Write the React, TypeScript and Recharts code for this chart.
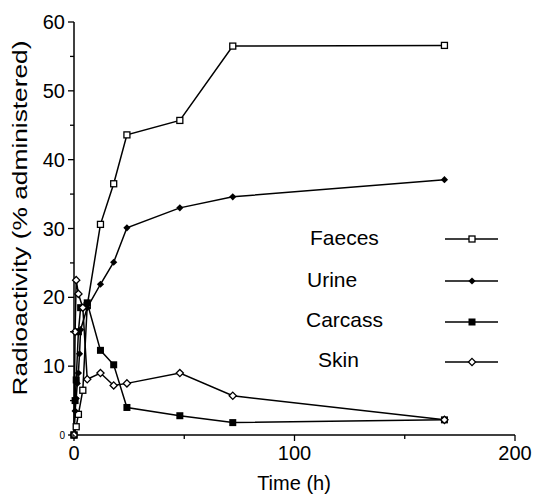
import React from "react";
import { LineChart, Line, XAxis, YAxis, Label } from "recharts";

// hours after dosing / % of administered radioactivity
const faecesHours = [0, 1, 2, 4, 6, 12, 18, 24, 48, 72, 168];
const faecesPct = [0, 1.2, 3.0, 6.5, 18.8, 30.6, 36.5, 43.6, 45.7, 56.5, 56.6];

const urineHours = [0, 0.5, 1, 1.5, 2, 2.5, 3, 6, 12, 18, 24, 48, 72, 168];
const urinePct = [0, 3.5, 5.3, 7.5, 9.0, 11.8, 15.3, 18.5, 21.9, 25.1, 30.1, 33.0, 34.6, 37.1];

const carcassHours = [0, 0.5, 1, 2, 3, 6, 12, 18, 24, 48, 72, 168];
const carcassPct = [0, 5.0, 8.0, 15.0, 18.5, 19.2, 12.3, 10.2, 4.0, 2.8, 1.8, 2.2];

const skinHours = [0, 0.5, 1, 2, 4, 6, 12, 18, 24, 48, 72, 168];
const skinPct = [0, 15.0, 22.5, 20.5, 18.5, 8.1, 9.0, 7.2, 7.5, 9.0, 5.7, 2.2];

const yTicks = [0, 5, 10, 15, 20, 25, 30, 35, 40, 45, 50, 55, 60];
const xTicks = [0, 50, 100, 150, 200];

const legendNames = ["Faeces", "Urine", "Carcass", "Skin"];

const FONT = "'Liberation Sans', Arial, Helvetica, sans-serif";

const toRows = (hours: number[], pct: number[]) =>
  hours.map((t, i) => ({ t, v: pct[i] }));

const Marker = ({ kind, cx, cy }: { kind: string; cx: number; cy: number }) => {
  if (kind === "Faeces")
    return <rect x={cx - 3} y={cy - 3} width={6} height={6} fill="#fff" stroke="#000" strokeWidth={1.3} />;
  if (kind === "Carcass")
    return <rect x={cx - 3.5} y={cy - 3.5} width={7} height={7} fill="#000" />;
  const d = 3.6;
  const pts = `${cx},${cy - d} ${cx + d},${cy} ${cx},${cy + d} ${cx - d},${cy}`;
  if (kind === "Urine") return <polygon points={pts} fill="#000" />;
  return <polygon points={pts} fill="#fff" stroke="#000" strokeWidth={1.3} />;
};

const dotFor = (kind: string) => (p: any) =>
  <Marker key={`${kind}-${p.index}`} kind={kind} cx={p.cx} cy={p.cy} />;

const YTick = ({ x, y, payload }: any) => {
  const v = payload.value;
  const major = v % 10 === 0;
  return (
    <g>
      <line x1={x - (major ? 6 : 4)} x2={x} y1={y} y2={y} stroke="#000" strokeWidth={1.3} />
      {major && (
        <text x={x - 9} y={y} textAnchor="end" dominantBaseline="central"
          fontSize={v === 0 ? 10 : 20} fontFamily={FONT} fill="#000">
          {v}
        </text>
      )}
    </g>
  );
};

const XTick = ({ x, y, payload }: any) => {
  const v = payload.value;
  const major = v % 100 === 0;
  return (
    <g>
      <line x1={x} x2={x} y1={y} y2={y + (major ? 6 : 4)} stroke="#000" strokeWidth={1.3} />
      {major && (
        <text x={x} y={y + 18} textAnchor="middle" dominantBaseline="central"
          fontSize={20} fontFamily={FONT} fill="#000">
          {v}
        </text>
      )}
    </g>
  );
};

const legendRows = [
  { y: 237, lineY: 239, tx: 310 },
  { y: 279, lineY: 281, tx: 307 },
  { y: 319, lineY: 322, tx: 306 },
  { y: 359, lineY: 362, tx: 318 },
];

export default function App() {
  return (
    <div style={{ position: "relative", width: 534, height: 495, background: "#fff" }}>
      <style>{"body{margin:0}"}</style>
      <LineChart width={534} height={495} margin={{ top: 22, right: 19, bottom: 20, left: 34 }}>
        <XAxis
          type="number"
          dataKey="t"
          domain={[0, 200]}
          ticks={xTicks}
          tick={<XTick />}
          tickLine={false}
          tickSize={0}
          tickMargin={0}
          height={40}
          axisLine={{ stroke: "#000", strokeWidth: 1.5 }}
          allowDuplicatedCategory={false}
        >
          <Label
            content={() => (
              <text x={294} y={483} textAnchor="middle" dominantBaseline="central"
                fontSize={20} fontFamily={FONT} fill="#000">
                Time (h)
              </text>
            )}
          />
        </XAxis>
        <YAxis
          type="number"
          dataKey="v"
          domain={[0, 60]}
          ticks={yTicks}
          tick={<YTick />}
          tickLine={false}
          tickSize={0}
          tickMargin={0}
          width={40}
          axisLine={{ stroke: "#000", strokeWidth: 1.5 }}
        >
          <Label
            content={() => (
              <text x={20} y={218} textAnchor="middle" dominantBaseline="central"
                fontSize={20} fontFamily={FONT} fill="#000"
                transform="rotate(-90 20 218)" textLength={355} lengthAdjust="spacingAndGlyphs">
                Radioactivity (% administered)
              </text>
            )}
          />
        </YAxis>
        <Line data={toRows(faecesHours, faecesPct)} dataKey="v" type="linear" stroke="#000"
          strokeWidth={1.5} dot={dotFor("Faeces")} activeDot={false} isAnimationActive={false} />
        <Line data={toRows(urineHours, urinePct)} dataKey="v" type="linear" stroke="#000"
          strokeWidth={1.5} dot={dotFor("Urine")} activeDot={false} isAnimationActive={false} />
        <Line data={toRows(carcassHours, carcassPct)} dataKey="v" type="linear" stroke="#000"
          strokeWidth={1.5} dot={dotFor("Carcass")} activeDot={false} isAnimationActive={false} />
        <Line data={toRows(skinHours, skinPct)} dataKey="v" type="linear" stroke="#000"
          strokeWidth={1.5} dot={dotFor("Skin")} activeDot={false} isAnimationActive={false} />
      </LineChart>
      <svg width={534} height={495} style={{ position: "absolute", left: 0, top: 0, pointerEvents: "none" }}>
        {legendNames.map((name, i) => {
          const r = legendRows[i];
          return (
            <g key={name}>
              <text x={r.tx} y={r.y} dominantBaseline="central" fontSize={21} fontFamily={FONT} fill="#000">
                {name}
              </text>
              <line x1={445} x2={498} y1={r.lineY} y2={r.lineY} stroke="#000" strokeWidth={1.5} />
              <Marker kind={name} cx={472} cy={r.lineY} />
            </g>
          );
        })}
      </svg>
    </div>
  );
}
